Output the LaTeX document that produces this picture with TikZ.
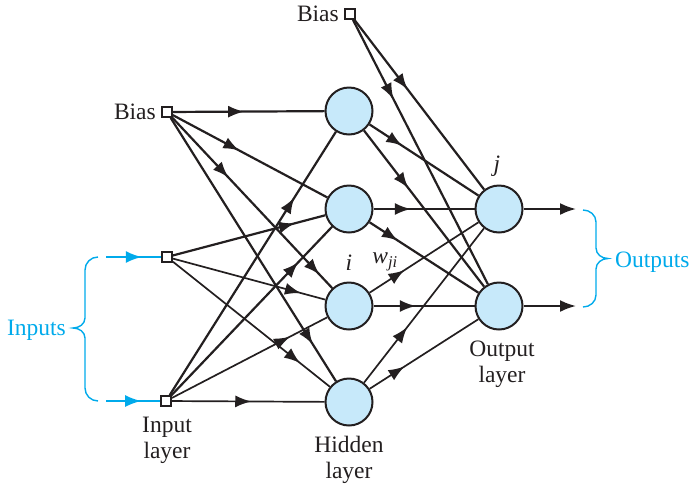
\documentclass[tikz,border=0pt]{standalone}
\usepackage{fontspec}
\setmainfont{Liberation Serif}
\usetikzlibrary{arrows.meta,decorations.markings}
\definecolor{nodeblue}{RGB}{199,233,250}
\definecolor{bracecyan}{RGB}{0,170,235}
\definecolor{ink}{RGB}{35,31,32}
\tikzset{
  myarrow/.tip={Latex[length=16pt,width=12pt]},
  marrow/.style={postaction={decorate,decoration={markings,mark=at position #1 with {\arrow{myarrow}}}}},
  tarrow/.style 2 args={postaction={decorate,decoration={markings,mark=at position #1 with {\arrow{myarrow}},mark=at position #2 with {\arrow{myarrow}}}}},
  thk/.style={line width=2.2pt,draw=ink},
  thn/.style={line width=1.7pt,draw=ink},
  hid/.style={circle,draw=ink,line width=2pt,fill=nodeblue,minimum size=47pt,inner sep=0pt},
  sq/.style={rectangle,draw=ink,line width=1.8pt,fill=white,minimum size=10pt,inner sep=0pt},
  lbl/.style={inner sep=0pt,font=\fontsize{23.5}{25.5}\selectfont,text=ink},
  cyanline/.style={draw=bracecyan,line width=2pt},
}
\begin{document}
\begin{tikzpicture}[x=1pt,y=1pt]
\useasboundingbox (0,0) rectangle (690,-483);
% nodes
\node[hid] (h1) at (349,-111) {};
\node[hid] (h2) at (349,-209) {};
\node[hid] (h3) at (349,-306) {};
\node[hid] (h4) at (349,-402) {};
\node[hid] (o1) at (499,-209) {};
\node[hid] (o2) at (499,-306) {};
\node[sq] (b1) at (167,-112) {};
\node[sq] (x1) at (167,-257) {};
\node[sq] (x2) at (166,-401) {};
\node[sq] (b2) at (350,-14) {};
% input -> hidden
\draw[thk,marrow=0.47] (b1) -- (h1);
\draw[thk,marrow=0.43] (b1) -- (h2);
\draw[thk,tarrow={0.35}{0.92}] (b1) -- (h3);
\draw[thk,marrow=0.86] (b1) -- (h4);
\draw[thk,marrow=0.80] (x1) -- (h2);
\draw[thn,marrow=0.84] (x1) -- (h3);
\draw[thn,marrow=0.81] (x1) -- (h4);
\draw[thk,marrow=0.75] (x2) -- (h1);
\draw[thk,marrow=0.79] (x2) -- (h2);
\draw[thn,marrow=0.76] (x2) -- (h3);
\draw[thn,marrow=0.52] (x2) -- (h4);
% hidden -> output
\draw[thk,marrow=0.30] (h1) -- (o1);
\draw[thk,marrow=0.37] (h1) -- (o2);
\draw[thk,marrow=0.37] (h2) -- (o1);
\draw[thk,marrow=0.26] (h2) -- (o2);
\draw[thn,marrow=0.32] (h3) -- (o1);
\draw[thk,marrow=0.42] (h3) -- (o2);
\draw[thn,marrow=0.36] (h4) -- (o1);
\draw[thn,marrow=0.32] (h4) -- (o2);
\draw[thk,marrow=0.41] (b2) -- (o1);
\draw[thk,marrow=0.30] (b2) -- (o2);
% outputs
\coordinate (e1) at (576,-209);
\coordinate (e2) at (576,-306);
\draw[thk,-myarrow] (o1) -- (e1);
\draw[thk,-myarrow] (o2) -- (e2);
% inputs
\coordinate (s1) at (106,-257);
\coordinate (s2) at (106,-401);
\draw[cyanline,marrow=0.65] (s1) -- (x1);
\draw[cyanline,marrow=0.65] (s2) -- (x2);
% braces
\draw[bracecyan,line width=1.4pt] (98,-257) to[out=180,in=90] (85,-270) -- (85,-318) to[out=-90,in=0] (73,-328) to[out=0,in=90] (85,-338) -- (85,-388) to[out=-90,in=180] (98,-401);
\draw[bracecyan,line width=1.4pt] (583,-210) to[out=0,in=90] (596,-222) -- (596,-248) to[out=-90,in=180] (608,-258.5) to[out=180,in=90] (596,-269) -- (596,-295) to[out=-90,in=0] (583,-307);
% labels
\node[lbl,anchor=east] (lb1) at (156,-111.5) {Bias};
\node[lbl,anchor=east] (lb2) at (339,-13.5) {Bias};
\node[lbl,anchor=base east,text=bracecyan] (lin) at (66,-335) {Inputs};
\node[lbl,anchor=base west,text=bracecyan] (lout) at (615,-267) {Outputs};
\node[lbl,align=center,anchor=north] (lil) at (167,-417) {Input\\layer};
\node[lbl,align=center,anchor=north] (lhl) at (349,-436) {Hidden\\layer};
\node[lbl,align=center,anchor=north] (lol) at (502,-341) {Output\\layer};
\node[lbl] (li) at (349,-263) {\textit{i}};
\node[lbl] (lw) at (385,-262) {\textit{w}\textsubscript{\textit{ji}}};
\node[lbl] (lj) at (497,-166) {\textit{j}};
\end{tikzpicture}
\end{document}
